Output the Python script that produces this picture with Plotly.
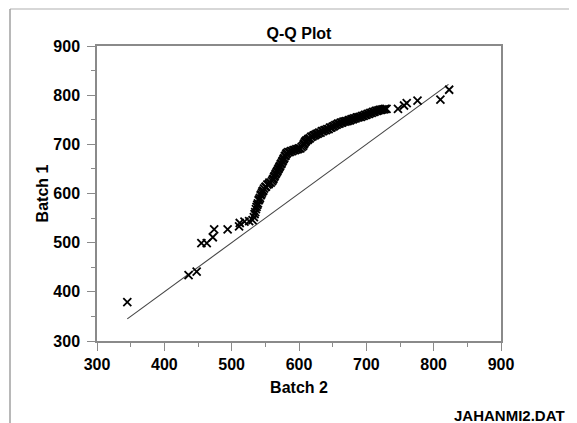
import plotly.graph_objects as go

# Q-Q pairs (sorted Batch 2 quantile, sorted Batch 1 quantile)
batch2 = [
    345, 436, 448, 455, 463, 472, 474, 494, 511, 512, 519, 526, 531,
    533, 534, 535, 536, 537, 538, 539, 540, 541, 542, 543, 544, 545, 546, 547, 548,
    550, 551, 553, 555, 556, 558, 560,
    561, 562, 563, 564, 565, 566, 567, 568, 569, 570, 571, 572, 573, 574, 575, 576,
    577, 578, 579, 580, 581, 582,
    584, 586, 588, 590, 592, 594, 596, 598, 600, 602, 604, 606,
    607, 608, 609, 610, 611, 613, 614, 616, 618, 620, 622, 624, 626,
    628, 630, 632, 634, 636, 638, 640, 642, 644, 646, 648, 650, 652, 654, 656, 658,
    660, 662, 664, 666, 668, 670, 672, 674, 676, 678, 680, 682, 684, 686, 688, 690,
    692, 694, 696, 698, 700,
    702, 704, 706, 708, 710, 712, 714, 716, 718, 720, 722, 724, 726, 728, 730,
    747, 756, 760, 776, 810, 823,
]
batch1 = [
    379, 434, 441, 499, 499, 511, 527, 527, 533, 540, 543, 544, 546,
    552, 558, 562, 568, 573, 577, 580, 586, 588, 591, 596, 598, 602, 605, 606, 610,
    613, 614, 618, 619, 622, 622, 625,
    628, 630, 634, 636, 639, 641, 644, 646, 649, 651, 654, 656, 660, 661, 665, 667,
    670, 672, 676, 677, 680, 682,
    684, 684, 686, 686, 688, 688, 690, 690, 692, 692, 695, 697,
    700, 702, 705, 706, 708, 709, 711, 712, 715, 716, 718, 719, 721,
    722, 724, 724, 727, 727, 729, 729, 731, 731, 734, 734, 736, 737, 739, 740, 742,
    742, 744, 744, 746, 746, 747, 747, 749, 749, 751, 751, 753, 753, 755, 755, 756,
    756, 758, 758, 760, 760,
    762, 762, 764, 764, 766, 766, 768, 768, 769, 770, 770, 771, 771, 772, 772,
    772, 779, 784, 789, 791, 811,
]

# 45-degree reference line endpoints
ref_x = [345, 822]
ref_y = [345, 822]

x_ticks = [300, 400, 500, 600, 700, 800, 900]
y_ticks = [300, 400, 500, 600, 700, 800, 900]

title_text = "Q-Q Plot"
x_title = "Batch 2"
y_title = "Batch 1"
footer = "JAHANMI2.DAT"

FONT = "Liberation Sans"
AXIS_GRAY = "#8a8a8a"

# page body has an 8px margin; figure is sized to fill the rest of the window
W, H = 569, 415
ML, MT = 89, 38
PW, PH = 404, 295

fig = go.Figure()
fig.add_trace(go.Scatter(
    x=ref_x, y=ref_y, mode="lines",
    line=dict(color="#444444", width=1.1),
    hoverinfo="skip", showlegend=False,
))
fig.add_trace(go.Scatter(
    x=batch2, y=batch1, mode="markers",
    marker=dict(symbol="x-thin-open", size=8, color="black",
                line=dict(color="black", width=1.8)),
    showlegend=False,
))

tickfont = dict(family=FONT, size=16, color="black", weight="bold")
axis_common = dict(
    range=[300, 900], showgrid=False, zeroline=False,
    showline=True, linecolor=AXIS_GRAY, linewidth=1.5, mirror=True,
    ticks="outside", ticklen=8, tickwidth=1.3, tickcolor=AXIS_GRAY,
    tickfont=tickfont,
    minor=dict(ticks="outside", ticklen=4, tickwidth=1.3, tickcolor=AXIS_GRAY, dtick=50),
)

def px_x(px):  # window pixel -> paper x
    return (px - 8 - ML) / PW

def px_y(py):  # window pixel -> paper y
    return (MT + PH - (py - 8)) / PH

fig.update_layout(
    width=W, height=H,
    margin=dict(l=ML, r=W - ML - PW, t=MT, b=H - MT - PH),
    paper_bgcolor="white", plot_bgcolor="white",
    title=dict(text=title_text, x=0.5, xref="paper", y=1 - (33 - 8) / H, yanchor="middle",
               font=dict(family=FONT, size=16, color="black", weight="bold")),
    xaxis=dict(axis_common, tickvals=x_ticks, ticklabelstandoff=0,
               title=dict(text=x_title, standoff=10,
                          font=dict(family=FONT, size=16, color="black", weight="bold"))),
    yaxis=dict(axis_common, tickvals=y_ticks, ticklabelstandoff=4,
               title=dict(text=y_title, standoff=1,
                          font=dict(family=FONT, size=16, color="black", weight="bold"))),
    shapes=[
        dict(type="line", xref="paper", yref="paper",
             x0=px_x(10), x1=px_x(577), y0=px_y(9), y1=px_y(9),
             line=dict(color="#b0b0b0", width=1.2)),
        dict(type="line", xref="paper", yref="paper",
             x0=px_x(10), x1=px_x(10), y0=px_y(9), y1=px_y(423),
             line=dict(color="#a0a0a0", width=1.5)),
    ],
    annotations=[
        dict(text=footer, xref="paper", yref="paper",
             x=px_x(452), y=px_y(415),
             xanchor="left", yanchor="middle", showarrow=False,
             font=dict(family=FONT, size=15, color="black", weight="bold")),
    ],
)

fig.write_html("out.html")
